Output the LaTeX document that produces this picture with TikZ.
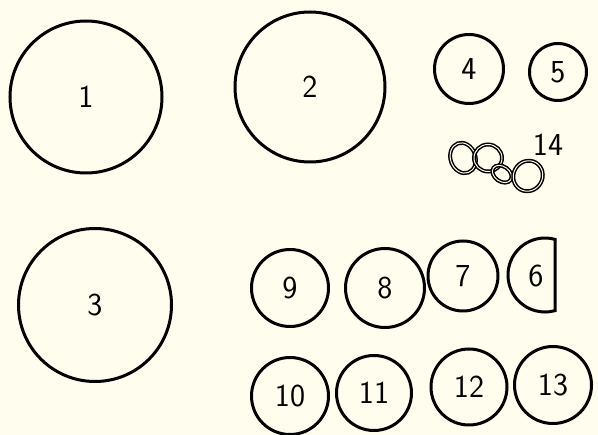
\documentclass[tikz,border=0pt]{standalone}
\definecolor{paper}{RGB}{254,253,238}
\newcommand{\numfont}{\fontsize{32}{34}\selectfont\sffamily}

\begin{document}
\begin{tikzpicture}[x=1pt, y=-1pt,
      disc/.style={circle, draw=black, line width=3pt, inner sep=0pt, font=\numfont},
      tag/.style={font=\numfont},
      link/.style={draw=black, line width=1.5pt, double=paper, double distance=1pt}
    ]
    \fill[paper] (0,0) rectangle (598,435);
    \useasboundingbox (0,0) rectangle (598,435);
    % large discs
    \node[disc, minimum size=152pt] (d1) at (86,97) {1};
    \node[disc, minimum size=150pt] (d2) at (310,87) {2};
    \node[disc, minimum size=153pt] (d3) at (95,305) {3};
    % small discs, top right
    \node[disc, minimum size=69pt] (d4) at (469,69) {4};
    \node[disc, minimum size=57pt] (d5) at (558,72) {5};
    % middle row
    \node[disc, minimum size=77pt] (d9) at (290,288) {9};
    \node[disc, minimum size=79pt] (d8) at (385,288) {8};
    \node[disc, minimum size=70pt] (d7) at (463,276) {7};
    \node[tag] (d6) at (536,276) {6};
    \draw[line width=3pt] (555,239.4) arc[start angle=74.3, end angle=285.7, radius=37pt] -- cycle;
    % bottom row
    \node[disc, minimum size=77pt] (d10) at (290,396) {10};
    \node[disc, minimum size=75pt] (d11) at (374,393) {11};
    \node[disc, minimum size=76pt] (d12) at (469,387) {12};
    \node[disc, minimum size=77pt] (d13) at (553,385) {13};
    % chain
    \draw[link, rotate around={20:(463,158)}] (463,158) ellipse[x radius=12.5pt, y radius=15.5pt];
    \draw[link] (488,158) ellipse[x radius=14pt, y radius=13.5pt];
    \draw[link, rotate around={-35:(502,174)}] (502,174) ellipse[x radius=10.5pt, y radius=7.5pt];
    \draw[link, rotate around={-30:(528,176)}] (528,176) ellipse[x radius=14.5pt, y radius=15.5pt];
    \node[tag] (t14) at (548,145) {14};
  \end{tikzpicture}
\end{document}
